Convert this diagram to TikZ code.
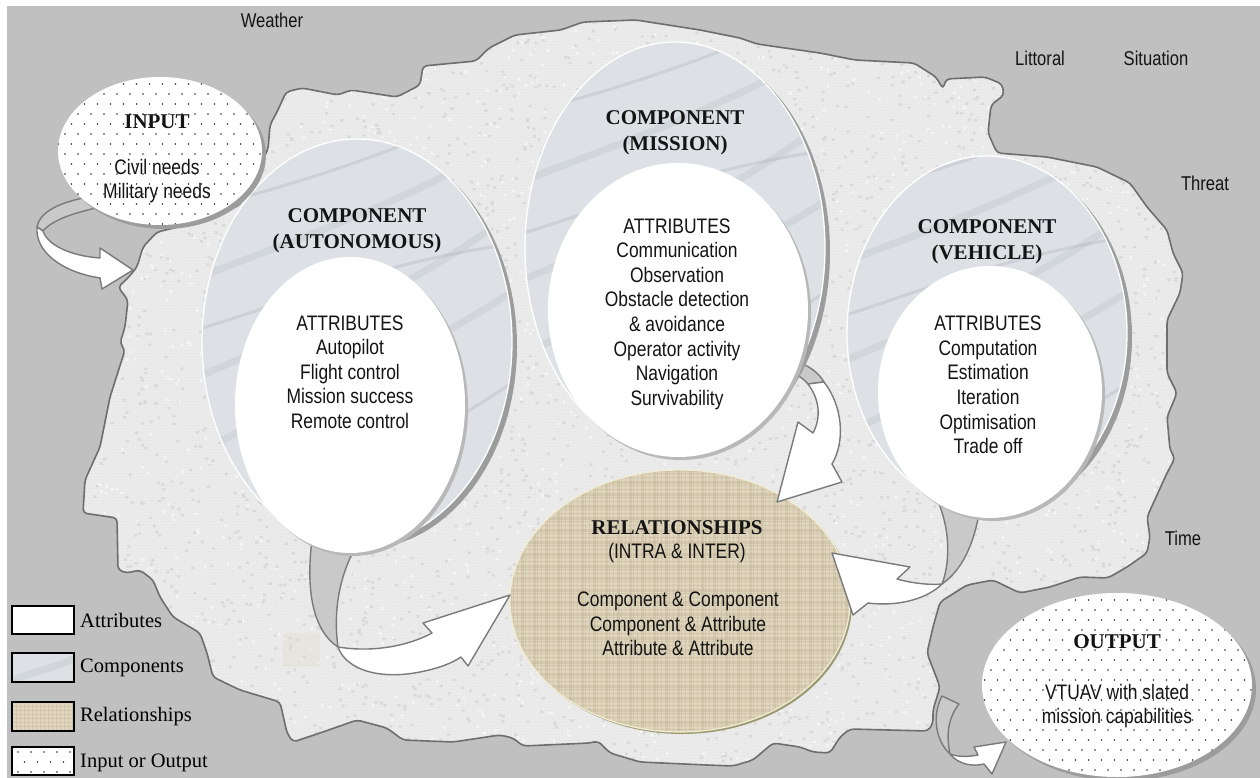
\documentclass[tikz,border=0pt]{standalone}
\usepackage{fontspec}
\setmainfont{Liberation Serif}
\newfontfamily\narrowsans{Liberation Sans}[FakeStretch=0.83]
\usetikzlibrary{patterns}

\definecolor{bggray}{HTML}{C0C0C0}
\definecolor{blobfill}{HTML}{ECECEC}
\definecolor{blobgrain}{HTML}{E0E0E0}
\definecolor{blobspeck}{HTML}{D9D9D9}
\definecolor{blobline}{HTML}{6E6E6E}
\definecolor{compfill}{HTML}{DDE1E6}
\definecolor{compstreak}{HTML}{A4AAB3}
\definecolor{shadowgray}{HTML}{9C9C9C}
\definecolor{attrshadow}{HTML}{B8B8B8}
\definecolor{relfill}{HTML}{E0D6BF}
\definecolor{relgrid}{HTML}{B5A887}
\definecolor{relrim}{HTML}{F1EDD2}
\definecolor{relshadow}{HTML}{9C9A74}
\definecolor{arrowline}{HTML}{7A7A7A}
\definecolor{arrowback}{HTML}{C9C9C9}
\definecolor{inktext}{HTML}{141414}
\definecolor{dotink}{HTML}{303030}

\tikzset{
  envlabel/.style={font=\narrowsans\fontsize{20}{24}\selectfont, text=inktext, inner sep=0pt},
  attrtext/.style={font=\narrowsans\fontsize{21}{24.6}\selectfont, text=inktext, align=center, inner sep=0pt},
  headtext/.style={font=\bfseries\fontsize{21}{25.5}\selectfont, text=inktext, align=center, inner sep=0pt},
  legendtext/.style={font=\fontsize{20.5}{24}\selectfont, text=black, anchor=west, inner sep=0pt},
  arrowfront/.style={fill=white, draw=arrowline, line width=1.4pt, line join=round},
  arrowrear/.style={fill=arrowback, draw=arrowline, line width=1.4pt, line join=round},
  legendbox/.style={draw=black, line width=2pt},
  streak/.style={draw=compstreak, line width=7pt, line cap=round, opacity=0.2},
  thinstreak/.style={draw=compstreak, line width=3pt, line cap=round, opacity=0.28},
  relgridline/.style={draw=relgrid, line width=0.7pt, opacity=0.28},
}

% staggered dot field: x0, y0, columns, rows
\newcommand{\dotgrid}[4]{%
  \fill[dotink] \foreach \rr in {0,...,#4}{%
    \foreach \cc in {0,...,#3}{%
      ({#1+mod(\rr,2)*6.5+13*\cc},{#2+10*\rr}) circle[radius=0.95]
    }};}

% marble streaks around a centre
\newcommand{\marble}[2]{%
  \begin{scope}[shift={(#1,#2)}]
    \draw[streak] (-170,120) .. controls (-80,60) and (20,40) .. (170,-60);
    \draw[streak] (-170,40) .. controls (-60,-10) and (40,-40) .. (170,-140);
    \draw[streak] (-170,-60) .. controls (-70,-100) and (30,-130) .. (170,-210);
    \draw[thinstreak] (-170,190) .. controls (-40,140) and (60,110) .. (170,30);
    \draw[thinstreak] (-170,-130) .. controls (-50,-160) and (40,-190) .. (170,-250);
    \draw[thinstreak] (-170,-10) .. controls (-90,-30) and (10,-80) .. (170,-100);
  \end{scope}}

\def\blobpath{(286,92) -- (302,88) -- (338,95) -- (351,90) -- (397,97) -- (420,85) -- (423,66)
  -- (476,61) -- (489,48) -- (515,35) -- (561,30) -- (583,22) -- (636,20) -- (700,30) -- (740,38)
  -- (757,44) -- (820,53) -- (855,60) -- (914,63) -- (936,77) -- (943,89) -- (946,79) -- (985,77)
  -- (1002,84) -- (1004,95) -- (991,105) -- (988,133) -- (997,153) -- (1047,157) -- (1097,167)
  -- (1130,183) -- (1147,207) -- (1167,230) -- (1173,253) -- (1183,273) -- (1180,293) -- (1167,320)
  -- (1167,373) -- (1177,393) -- (1167,417) -- (1170,450) -- (1175,458) -- (1167,473) -- (1147,517)
  -- (1150,537) -- (1147,553) -- (1127,567) -- (1108,578) -- (1080,577) -- (1050,587) -- (1020,593)
  -- (993,580) -- (967,585) -- (940,602) -- (933,627) -- (927,653) -- (940,687) -- (933,710)
  -- (933,723) -- (928,731) -- (850,729) -- (840,737) -- (830,753) -- (813,752) -- (800,747)
  -- (773,743) -- (753,760) -- (733,766) -- (707,765) -- (640,762) -- (610,753) -- (598,741)
  -- (590,743) -- (523,746) -- (513,738) -- (500,735) -- (453,742) -- (403,740) -- (387,728)
  -- (357,720) -- (320,733)
  -- (293,742) -- (287,733) -- (280,702) -- (240,690) -- (213,677) -- (207,653) -- (200,633)
  -- (173,617) -- (160,597) -- (153,580) -- (140,570) -- (127,573) -- (118,570) -- (117,518)
  -- (83,513) -- (85,480) -- (100,447) -- (110,397) -- (125,350) -- (120,343) -- (125,327)
  -- (128,300) -- (118,287) -- (128,278) -- (137,267) -- (143,247) -- (157,232) -- (200,222)
  -- (240,205) -- (262,160) -- (268,150) -- (270,125) -- (278,110) -- cycle}

\begin{document}
\begin{tikzpicture}[x=1pt,y=-1pt]
\useasboundingbox (0,0) rectangle (1260,778);
\fill[white] (0,0) rectangle (1260,778);
\fill[bggray] (7,6) rectangle (1260,778);

% ---------- environment ----------
\fill[blobfill, rounded corners=4pt] \blobpath;
\begin{scope}
  \clip[rounded corners=4pt] \blobpath;
  \fill[pattern=crosshatch dots, pattern color=blobgrain] (70,10) rectangle (1200,770);
  \pgfmathsetseed{4711}
  \fill[blobspeck] \foreach \i in {1,...,3600}{%
    ({80+1110*rnd},{15+755*rnd}) rectangle ++(3,2.4)};
  \fill[white, opacity=0.55] \foreach \i in {1,...,1800}{%
    ({80+1110*rnd},{15+755*rnd}) rectangle ++(2.6,2.6)};
  \fill[relfill, opacity=0.25] (283,633) rectangle (320,667);
\end{scope}
\draw[blobline, line width=1.6pt, rounded corners=4pt] \blobpath;

\node[envlabel] (weather) at (272,20) {Weather};
\node[envlabel] (littoral) at (1040,58) {Littoral};
\node[envlabel] (situation) at (1156,58) {Situation};
\node[envlabel] (threat) at (1205,183) {Threat};
\node[envlabel] (time) at (1183,538) {Time};

% ---------- relationships ----------
\fill[relshadow] (682,603) ellipse[x radius=170, y radius=131];
\begin{scope}
  \clip (680,601) ellipse[x radius=170, y radius=131];
  \fill[relfill] (505,465) rectangle (855,740);
  \draw[relgridline] \foreach \g in {505,509,...,855} {(\g,465) -- (\g,740)};
  \draw[relgridline] \foreach \g in {465,469,...,740} {(505,\g) -- (855,\g)};
  \draw[relgridline, line width=1.3pt] \foreach \g in {511,523,...,855} {(\g,465) -- (\g,740)};
  \draw[relgridline, line width=1.3pt] \foreach \g in {471,483,...,740} {(505,\g) -- (855,\g)};
\end{scope}
\draw[relrim, line width=1.2pt] (680,601) ellipse[x radius=170, y radius=131];
\node[headtext] (relhead) at (677,528) {RELATIONSHIPS};
\node[attrtext] (relsub) at (677,553) {(INTRA \& INTER)};
\node[attrtext] (rellist) at (678,624) {Component \& Component\\Component \& Attribute\\Attribute \& Attribute};

% ---------- curved block arrows ----------
% autonomous -> relationships
\path[arrowrear] (312,540) .. controls (305,595) and (315,632) .. (338,647)
  .. controls (334,620) and (336,580) .. (357,545) -- cycle;
\path[arrowfront] (338,647) .. controls (346,670) and (380,680) .. (420,672)
  .. controls (440,668) and (452,663) .. (461,657) -- (468,666) -- (510,595) -- (423,623) -- (432,633)
  .. controls (410,645) and (375,653) .. (338,647) -- cycle;
% mission -> relationships
\path[arrowrear] (790,360) .. controls (808,364) and (818,372) .. (824,382) -- (808,384)
  .. controls (803,378) and (797,374) .. (788,372) -- cycle;
\path[arrowfront] (808,384) .. controls (820,400) and (821,418) .. (813,433) -- (798,422) -- (777,502)
  -- (842,482) -- (832,464) .. controls (846,440) and (842,405) .. (824,382) -- cycle;
% vehicle -> relationships
\path[arrowrear] (935,495) .. controls (950,525) and (951,560) .. (942,584)
  .. controls (962,570) and (974,545) .. (980,508) -- cycle;
\path[arrowfront] (942,584) .. controls (928,598) and (900,607) .. (868,603) -- (853,615) -- (832,553)
  -- (910,567) -- (897,579) .. controls (915,584) and (932,585) .. (942,584) -- cycle;
% environment -> output
\path[arrowrear] (942,696) .. controls (932,715) and (935,740) .. (950,754)
  .. controls (946,735) and (948,718) .. (959,704) -- cycle;
\path[arrowfront] (950,754) .. controls (958,764) and (972,767) .. (984,764) -- (992,774) -- (1006,742)
  -- (974,747) -- (978,755) .. controls (968,757) and (958,757) .. (950,754) -- cycle;
% input -> environment
\path[arrowrear] (96,196) .. controls (65,200) and (40,210) .. (37,227)
  -- (43,231) .. controls (52,220) and (75,212) .. (106,206) -- cycle;
\path[arrowfront] (37,227) .. controls (35,252) and (62,272) .. (100,278) -- (102,289) -- (133,270)
  -- (100,248) -- (100,258) .. controls (72,256) and (48,246) .. (43,231) -- cycle;

% ---------- component: mission ----------
\fill[shadowgray] (680,252) ellipse[x radius=150, y radius=206];
\fill[compfill] (675,248) ellipse[x radius=150, y radius=206];
\begin{scope}
  \clip (675,248) ellipse[x radius=150, y radius=206];
  \marble{675}{248}
\end{scope}
\draw[white, line width=1.3pt] (675,248) ellipse[x radius=150, y radius=206];
\fill[attrshadow] (681,313) ellipse[x radius=130, y radius=147];
\fill[white] (678,310) ellipse[x radius=130, y radius=147];
\node[headtext] (misshead) at (675,133) {COMPONENT\\(MISSION)};
\node[attrtext] (misslist) at (677,314) {ATTRIBUTES\\Communication\\Observation\\Obstacle detection\\\& avoidance\\Operator activity\\Navigation\\Survivability};

% ---------- component: vehicle ----------
\fill[shadowgray] (992,337) ellipse[x radius=140, y radius=177];
\fill[compfill] (987,333) ellipse[x radius=140, y radius=177];
\begin{scope}
  \clip (987,333) ellipse[x radius=140, y radius=177];
  \marble{987}{333}
\end{scope}
\draw[white, line width=1.3pt] (987,333) ellipse[x radius=140, y radius=177];
\fill[attrshadow] (993,395) ellipse[x radius=112, y radius=126];
\fill[white] (990,392) ellipse[x radius=112, y radius=126];
\node[headtext] (vehhead) at (987,242) {COMPONENT\\(VEHICLE)};
\node[attrtext] (vehlist) at (988,385) {ATTRIBUTES\\Computation\\Estimation\\Iteration\\Optimisation\\Trade off};

% ---------- component: autonomous ----------
\fill[shadowgray] (362,346) ellipse[x radius=155, y radius=203];
\fill[compfill] (357,342) ellipse[x radius=155, y radius=203];
\begin{scope}
  \clip (357,342) ellipse[x radius=155, y radius=203];
  \marble{357}{342}
\end{scope}
\draw[white, line width=1.3pt] (357,342) ellipse[x radius=155, y radius=203];
\fill[attrshadow] (353,408) ellipse[x radius=115, y radius=148];
\fill[white] (350,405) ellipse[x radius=115, y radius=148];
\node[headtext] (autohead) at (357,231) {COMPONENT\\(AUTONOMOUS)};
\node[attrtext] (autolist) at (350,372) {ATTRIBUTES\\Autopilot\\Flight control\\Mission success\\Remote control};

% ---------- input ----------
\fill[shadowgray] (164,155) ellipse[x radius=102, y radius=74];
\fill[white] (160,151) ellipse[x radius=102, y radius=74];
\begin{scope}
  \clip (160,151) ellipse[x radius=102, y radius=74];
  \dotgrid{52}{74}{17}{15}
\end{scope}
\node[headtext] (inhead) at (157,122) {INPUT};
\node[attrtext] (inlist) at (157,181) {Civil needs\\Military needs};

% ---------- output ----------
\fill[shadowgray] (1121,689) ellipse[x radius=135, y radius=92];
\fill[white] (1117,685) ellipse[x radius=135, y radius=92];
\begin{scope}
  \clip (1117,685) ellipse[x radius=135, y radius=92];
  \dotgrid{978}{590}{22}{19}
\end{scope}
\node[headtext] (outhead) at (1117,642) {OUTPUT};
\node[attrtext] (outlist) at (1117,706) {VTUAV with slated\\mission capabilities};

% ---------- legend ----------
\fill[white] (12,606) rectangle (74,634);
\draw[legendbox] (12,606) rectangle (74,634);
\node[legendtext] (lgattr) at (80,620) {Attributes};

\fill[compfill] (12,653) rectangle (74,682);
\begin{scope}
  \clip (12,653) rectangle (74,682);
  \draw[streak] (5,685) .. controls (30,670) and (50,672) .. (80,655);
\end{scope}
\draw[legendbox] (12,653) rectangle (74,682);
\node[legendtext] (lgcomp) at (80,668) {Components};

\begin{scope}
  \clip (12,702) rectangle (74,731);
  \fill[relfill] (12,702) rectangle (74,731);
  \draw[relgridline] \foreach \g in {12,16,...,74} {(\g,702) -- (\g,731)};
  \draw[relgridline] \foreach \g in {702,706,...,731} {(12,\g) -- (74,\g)};
\end{scope}
\draw[legendbox] (12,702) rectangle (74,731);
\node[legendtext] (lgrel) at (80,717) {Relationships};

\fill[white] (12,747) rectangle (74,775);
\begin{scope}
  \clip (12,747) rectangle (74,775);
  \dotgrid{18}{752}{4}{2}
\end{scope}
\draw[legendbox] (12,747) rectangle (74,775);
\node[legendtext] (lgio) at (80,763) {Input or Output};
\end{tikzpicture}
\end{document}
